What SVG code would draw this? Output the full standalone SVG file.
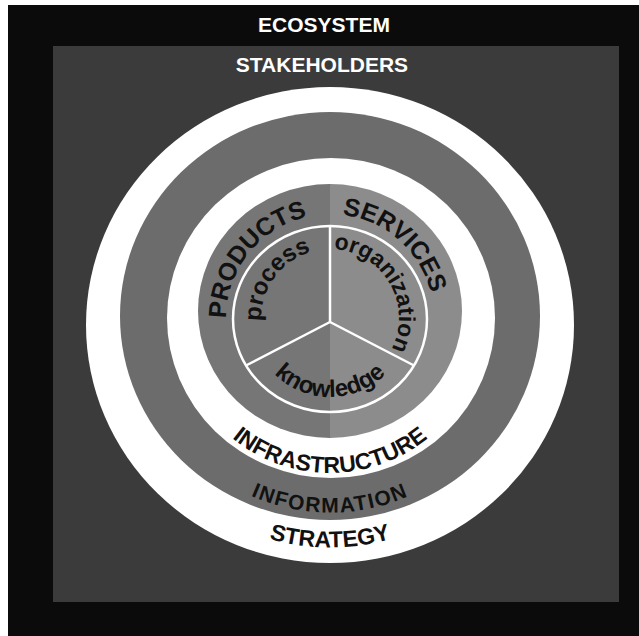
<svg xmlns="http://www.w3.org/2000/svg" width="639" height="636" viewBox="0 0 639 636">
<style>
.hdr{font-family:"Liberation Sans",Arial,sans-serif;font-weight:bold;font-size:21px;fill:#ffffff;text-anchor:middle}
.arc{font-family:"Liberation Sans",Arial,sans-serif;font-weight:bold;fill:#111111;text-anchor:middle}
.div{stroke:#ffffff;stroke-width:2.5;fill:none}
</style>
<defs>
<path id="pProducts" d="M258.4,393.4 A104,104 0 0 1 387.4,231.3"/>
<path id="pServices" d="M258.4,242.6 A104,104 0 0 1 413.6,379.9"/>
<path id="pProcess" d="M285.0,370.3 A69,69 0 0 1 365.2,258.7"/>
<path id="pOrganization" d="M300.8,255.5 A69,69 0 0 1 369.6,374.5"/>
<path id="pKnowledge" d="M251.3,324.9 A79,79 0 0 0 408.7,324.9"/>
<path id="pInfra" d="M175.6,331.5 A155,155 0 0 0 484.4,331.5"/>
<path id="pInfo" d="M134.7,333.1 A196,196 0 0 0 525.3,333.1"/>
<path id="pStrategy" d="M108.8,344.3 A222,222 0 0 0 551.2,344.3"/>
</defs>
<rect x="0" y="0" width="639" height="636" fill="#ffffff"/>
<g id="ecosystem">
<rect x="8" y="5" width="631" height="631" fill="#0b0b0b"/>
<text class="hdr" x="324" y="32">ECOSYSTEM</text>
</g>
<g id="stakeholders">
<rect x="53" y="46" width="566" height="556" fill="#3b3b3b"/>
<text class="hdr" x="322" y="72">STAKEHOLDERS</text>
</g>
<g id="strategy">
<ellipse cx="330" cy="325" rx="244" ry="238" fill="#ffffff"/>
<text class="arc" font-size="23"><textPath href="#pStrategy" startOffset="50%">STRATEGY</textPath></text>
</g>
<g id="information">
<ellipse cx="330" cy="316" rx="210" ry="204" fill="#6c6c6c"/>
<text class="arc" font-size="21" letter-spacing="1.5"><textPath href="#pInfo" startOffset="50%">INFORMATION</textPath></text>
</g>
<g id="infrastructure">
<ellipse cx="331" cy="318" rx="164" ry="160" fill="#ffffff"/>
<text class="arc" font-size="23"><textPath href="#pInfra" startOffset="50%">INFRASTRUCTURE</textPath></text>
</g>
<g id="products">
<path d="M330,184 A132,127 0 0 0 330,438 Z" fill="#767676"/>
<text class="arc" font-size="25"><textPath href="#pProducts" startOffset="50%">PRODUCTS</textPath></text>
</g>
<g id="services">
<path d="M330,184 A132,127 0 0 1 330,438 Z" fill="#8c8c8c"/>
<text class="arc" font-size="25"><textPath href="#pServices" startOffset="50%">SERVICES</textPath></text>
</g>
<g id="dividers">
<ellipse class="div" cx="330" cy="319" rx="97" ry="93"/>
<line class="div" x1="330" y1="322" x2="330" y2="226"/>
<line class="div" x1="330" y1="322" x2="246" y2="365.5"/>
<line class="div" x1="330" y1="322" x2="414" y2="365.5"/>
</g>
<g id="process">
<text class="arc" font-size="24"><textPath href="#pProcess" startOffset="50%">process</textPath></text>
</g>
<g id="organization">
<text class="arc" font-size="23"><textPath href="#pOrganization" startOffset="50%">organization</textPath></text>
</g>
<g id="knowledge">
<text class="arc" font-size="24"><textPath href="#pKnowledge" startOffset="50%">knowledge</textPath></text>
</g>
</svg>
